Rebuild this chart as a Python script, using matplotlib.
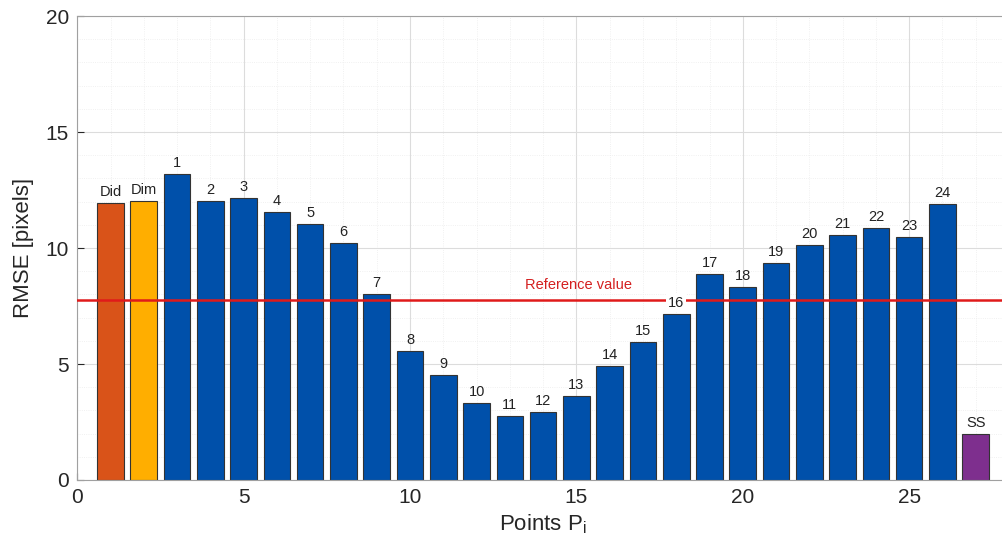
import matplotlib
matplotlib.use("Agg")
import matplotlib.pyplot as plt
from matplotlib.ticker import MultipleLocator

plt.rcParams['font.family'] = ['Liberation Sans', 'DejaVu Sans']

# RMSE per configuration
labels = ["Did", "Dim"] + [str(i) for i in range(1, 25)] + ["SS"]
rmse = [11.93, 12.04,
        13.19, 12.04, 12.16, 11.54, 11.02, 10.20, 8.02, 5.57, 4.53, 3.32,
        2.76, 2.92, 3.62, 4.93, 5.95, 7.16, 8.89, 8.33, 9.34, 10.12, 10.56,
        10.85, 10.47, 11.88,
        1.98]
reference_value = 7.76

colors = ["#D95319", "#FFAE00"] + ["#0050AA"] * 24 + ["#7E2F8E"]
positions = list(range(1, len(rmse) + 1))

fig = plt.figure(figsize=(10.03, 5.49), dpi=100)
ax = fig.add_axes([0.077, 0.1257, 0.929, 0.845])

ax.set_axisbelow(True)
ax.bar(positions, rmse, width=0.8, color=colors, edgecolor="#333333", linewidth=0.8, zorder=2)

ax.plot([0, 28], [reference_value, reference_value], color="#E01A1A", linewidth=1.8, zorder=3)
ax.text(15.05, reference_value + 0.35, "Reference value", color="#D42020",
        fontsize=10.5, ha="center", va="bottom", zorder=4)

for x, v, lab in zip(positions, rmse, labels):
    y = v + 0.3
    t = ax.text(x, y, lab, ha="center", va="baseline", fontsize=10.5, color="#222222", zorder=5)
    if reference_value - 0.7 < y < reference_value + 0.2:
        t.set_bbox(dict(facecolor="white", edgecolor="none", pad=1.5))

ax.set_xlim(0, 28)
ax.set_ylim(0, 20)
ax.xaxis.set_major_locator(MultipleLocator(5))
ax.yaxis.set_major_locator(MultipleLocator(5))
ax.xaxis.set_minor_locator(MultipleLocator(1))
ax.yaxis.set_minor_locator(MultipleLocator(1))

ax.grid(which="major", color="#DCDCDC", linewidth=0.8)
ax.grid(which="minor", color="#ECECEC", linewidth=0.6, linestyle=":")

ax.tick_params(which="both", direction="in", labelsize=15, colors="#262626")
ax.tick_params(which="minor", length=0)
ax.tick_params(which="major", length=5, pad=6)
for s in ax.spines.values():
    s.set_color("#A0A0A0")
    s.set_linewidth(0.8)

ax.set_ylabel("RMSE [pixels]", fontsize=16, color="#262626", labelpad=8)
ax.set_xlabel("Points P$_\\mathregular{i}$", fontsize=16, color="#262626", labelpad=4)

fig.savefig("out.png", dpi=100)
